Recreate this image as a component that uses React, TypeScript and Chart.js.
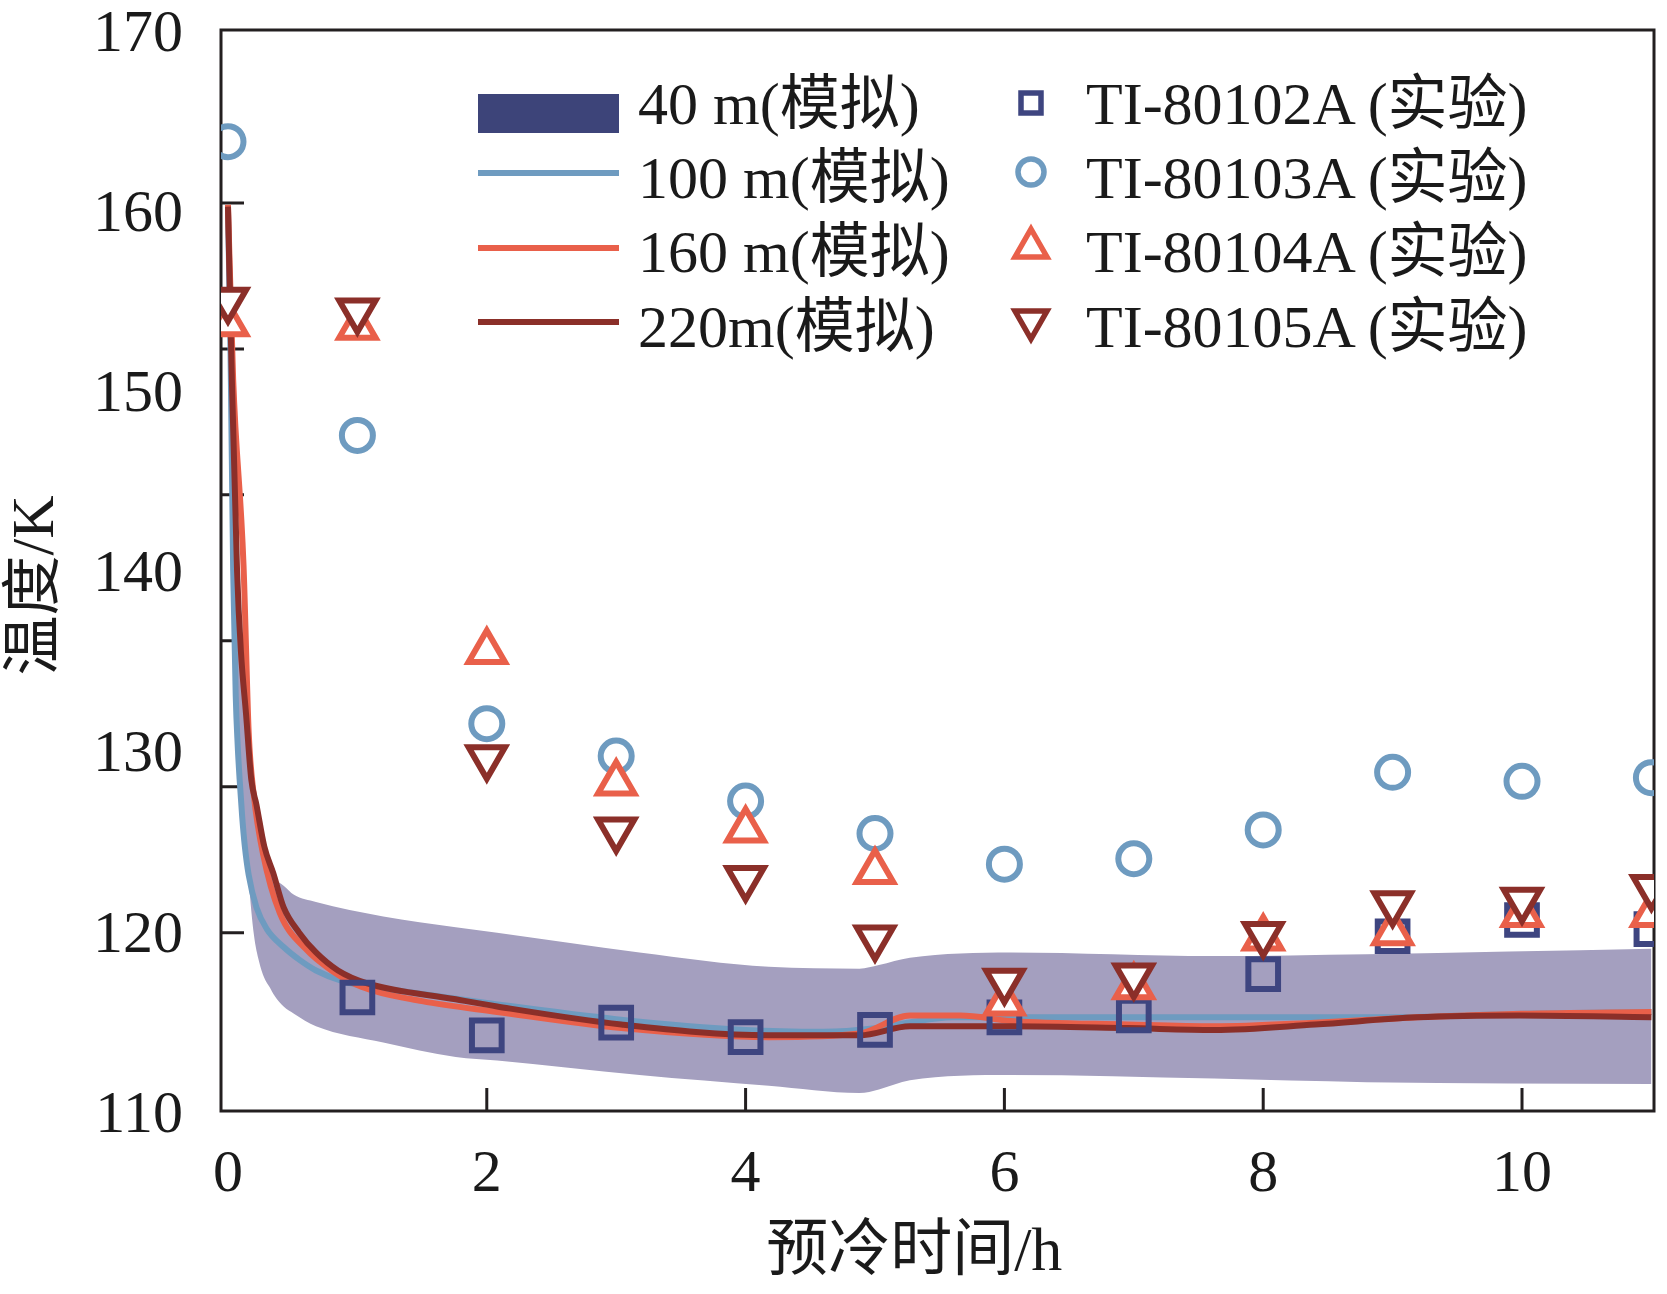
import React, { useEffect, useRef } from "react";
import { Chart, ChartConfiguration, Plugin, registerables } from "chart.js";

Chart.register(...registerables);

const serif = '"Liberation Serif", "Times New Roman", "Noto Sans CJK SC", serif';
const ink = "#1a1a1a";

const navy = "#3e4580";
const bandColor = "#a49fbf";
const blue = "#6e9bc0";
const orange = "#e9604a";
const darkRed = "#8b2f29";

// axes
const xMin = -0.054;
const xMax = 11.02;
const xTickValues = [0, 2, 4, 6, 8, 10];
const yTickValues = [110, 120, 130, 140, 150, 160, 170];
// the inward tick marks of the original do not sit on the labels
const xMarkValues = [2, 4, 6, 8, 10];
const yMarkValues = [119.9, 128.0, 136.1, 144.2, 152.3, 160.4];

// measurements
const expHours = [0, 1, 2, 3, 4, 5, 6, 7, 8, 9, 10, 11];
const ti80102A = [null, 116.3, 114.2, 114.9, 114.1, 114.5, 115.2, 115.3, 117.6, 119.7, 120.6, 120.1];
const ti80103A = [163.8, 147.5, 131.5, 129.7, 127.2, 125.4, 123.7, 124.0, 125.6, 128.8, 128.3, 128.5];
const ti80104A = [153.7, 153.5, 135.5, 128.2, 125.6, 123.3, 116.0, 116.9, 119.6, 119.9, 120.9, 120.9];
const ti80105A = [155.0, 154.4, 129.6, 125.6, 122.9, 119.6, 117.2, 117.5, 119.8, 121.5, 121.7, 122.4];

// simulation, 40 m band
const bandX = [0, 0.05, 0.1, 0.16, 0.2, 0.24, 0.28, 0.32, 0.36, 0.43, 0.51, 0.68, 1.2, 1.76, 2.08, 3.18, 4.18, 4.88, 5.03, 5.27, 6.05, 7.62, 8.8, 11];
const bandUpper = [160, 146, 136, 129.5, 127.0, 125.5, 124.2, 123.4, 122.9, 122.5, 122.0, 121.6, 120.8, 120.2, 119.9, 118.8, 118.0, 117.9, 118.1, 118.5, 118.8, 118.6, 118.7, 119.0];
const bandLower = [157, 137, 129, 122.8, 119.8, 118.3, 117.4, 116.9, 116.4, 115.8, 115.4, 114.7, 113.8, 113.0, 112.8, 112.0, 111.4, 111.0, 111.2, 111.7, 112.0, 111.8, 111.6, 111.5];

// simulation, 100 m
const sim100X = [0, 0.02, 0.04, 0.06, 0.075, 0.09, 0.11, 0.13, 0.16, 0.22, 0.3, 0.43, 0.55, 0.68, 0.89, 1.2, 1.5, 2, 3, 4, 4.6, 5, 5.25, 5.6, 6, 7, 8, 9, 10, 11];
const sim100 = [160, 152, 140, 133, 130.3, 128.4, 126.3, 124.7, 123.1, 121.3, 120.1, 119.1, 118.4, 117.8, 117.2, 116.8, 116.5, 116.0, 115.1, 114.5, 114.4, 114.6, 114.9, 115.2, 115.2, 115.2, 115.2, 115.2, 115.4, 115.5];

// simulation, 160 m
const sim160X = [0, 0.04, 0.12, 0.16, 0.2, 0.27, 0.4, 0.6, 0.8, 1.03, 1.5, 2.08, 3.04, 4.18, 4.88, 5.27, 5.66, 6.05, 6.95, 7.62, 8.4, 9.19, 10, 11];
const sim160 = [160.3, 150.6, 140.3, 131.0, 127.5, 124.3, 121.0, 119.0, 117.8, 116.9, 116.1, 115.5, 114.6, 114.1, 114.3, 115.3, 115.3, 115.0, 114.8, 114.7, 114.9, 115.2, 115.4, 115.5];

// simulation, 220 m
const sim220X = [0, 0.03, 0.07, 0.1, 0.14, 0.18, 0.22, 0.28, 0.35, 0.43, 0.55, 0.68, 0.85, 1.07, 1.76, 2.08, 3.04, 4.18, 4.88, 5.27, 6.05, 6.95, 7.62, 8.4, 9.19, 9.98, 11];
const sim220 = [160.2, 150.6, 140, 135.5, 132.0, 128.4, 127.0, 124.7, 123.2, 121.3, 119.9, 118.8, 117.8, 117.1, 116.2, 115.8, 114.8, 114.2, 114.2, 114.7, 114.7, 114.6, 114.5, 114.8, 115.2, 115.3, 115.2];

const pts = (xs: number[], ys: (number | null)[]) =>
  xs.map((x, i) => ({ x, y: ys[i] })).filter((p) => p.y !== null) as { x: number; y: number }[];

const marker = (color: string, style: string, radius: number, rotation: number, fill: string, order: number) => ({
  showLine: false,
  pointStyle: style as any,
  pointRotation: rotation,
  pointRadius: radius,
  pointHoverRadius: radius,
  pointBorderColor: color,
  pointBackgroundColor: fill,
  pointBorderWidth: 6,
  borderColor: color,
  backgroundColor: fill,
  order,
});

const curve = (color: string, order: number) => ({
  borderColor: color,
  borderWidth: 6,
  pointRadius: 0,
  cubicInterpolationMode: "monotone" as const,
  fill: false,
  order,
});

const tickFont = { family: serif, size: 60 };

const framePlugin: Plugin = {
  id: "frame",
  beforeDatasetsDraw(chart) {
    const { ctx, chartArea: a, scales } = chart;
    ctx.save();
    ctx.strokeStyle = "#231f20";
    ctx.lineWidth = 3;
    ctx.strokeRect(a.left, a.top, a.right - a.left, a.bottom - a.top);
    ctx.beginPath();
    xMarkValues.forEach((v) => {
      const px = scales.x.getPixelForValue(v);
      ctx.moveTo(px, a.bottom);
      ctx.lineTo(px, a.bottom - 23);
    });
    yMarkValues.forEach((v) => {
      const py = scales.y.getPixelForValue(v);
      ctx.moveTo(a.left, py);
      ctx.lineTo(a.left + 23, py);
    });
    ctx.stroke();
    ctx.restore();
  },
};

const config: ChartConfiguration<"line"> = {
  type: "line",
  data: {
    datasets: [
      { label: "TI-80105A (实验)", data: pts(expHours, ti80105A), ...marker(darkRed, "triangle", 21, 180, "#ffffff", 1) },
      { label: "TI-80104A (实验)", data: pts(expHours, ti80104A), ...marker(orange, "triangle", 21, 0, "#ffffff", 2) },
      { label: "TI-80103A (实验)", data: pts(expHours, ti80103A), ...marker(blue, "circle", 15.5, 0, "rgba(0,0,0,0)", 3) },
      { label: "TI-80102A (实验)", data: pts(expHours, ti80102A), ...marker(navy, "rect", 21, 0, "rgba(0,0,0,0)", 4) },
      { label: "220m(模拟)", data: pts(sim220X, sim220), ...curve(darkRed, 5) },
      { label: "160 m(模拟)", data: pts(sim160X, sim160), ...curve(orange, 6) },
      { label: "100 m(模拟)", data: pts(sim100X, sim100), ...curve(blue, 7) },
      {
        label: "40 m(模拟)",
        data: pts(bandX, bandUpper),
        borderWidth: 0,
        borderColor: "rgba(0,0,0,0)",
        backgroundColor: bandColor,
        pointRadius: 0,
        cubicInterpolationMode: "monotone",
        fill: "+1",
        order: 8,
      },
      {
        label: "40 m lower",
        data: pts(bandX, bandLower),
        borderWidth: 0,
        borderColor: "rgba(0,0,0,0)",
        pointRadius: 0,
        cubicInterpolationMode: "monotone",
        fill: false,
        order: 9,
      },
    ],
  },
  options: {
    animation: false,
    responsive: true,
    maintainAspectRatio: false,
    devicePixelRatio: 1,
    layout: { autoPadding: false, padding: { top: 30, right: 13, left: 0, bottom: 0 } },
    plugins: {
      legend: { display: false },
      tooltip: { enabled: false },
    },
    scales: {
      x: {
        type: "linear",
        min: xMin,
        max: xMax,
        afterBuildTicks: (s) => {
          s.ticks = xTickValues.map((v) => ({ value: v }));
        },
        afterFit: (s) => {
          s.height = 183;
          s.paddingLeft = 0;
          s.paddingRight = 0;
        },
        ticks: { font: tickFont, color: ink, padding: 28, maxRotation: 0, autoSkip: false },
        grid: { display: false, drawTicks: false },
        border: { display: false },
        title: {
          display: true,
          // trailing spaces nudge the centred title left, as in the original
          text: "预冷时间/h   ",
          font: { family: serif, size: 62 },
          color: ink,
          padding: { top: 0, bottom: 3 },
        },
      },
      y: {
        type: "linear",
        min: 110,
        max: 170,
        afterBuildTicks: (s) => {
          s.ticks = yTickValues.map((v) => ({ value: v }));
        },
        afterFit: (s) => {
          s.width = 221;
          s.paddingTop = 0;
          s.paddingBottom = 0;
        },
        ticks: { font: tickFont, color: ink, padding: 38, labelOffset: 5, autoSkip: false },
        grid: { display: false, drawTicks: false },
        border: { display: false },
        title: {
          display: true,
          text: "温度/K  ",
          font: { family: serif, size: 60 },
          color: ink,
          padding: { top: 1, bottom: 0 },
        },
      },
    },
  },
  plugins: [framePlugin],
};

const legendText: React.CSSProperties = {
  position: "absolute",
  fontFamily: serif,
  fontSize: 60,
  lineHeight: "72px",
  color: ink,
  whiteSpace: "nowrap",
};

function MarkerIcon({ kind, color }: { kind: string; color: string }) {
  let shape: React.ReactNode = null;
  if (kind === "rect") shape = <rect x={12} y={12} width={20} height={20} fill="none" stroke={color} strokeWidth={5.5} />;
  if (kind === "circle") shape = <circle cx={22} cy={22} r={13} fill="none" stroke={color} strokeWidth={5.5} />;
  if (kind === "up") shape = <polygon points="22,6 38,34 6,34" fill="none" stroke={color} strokeWidth={5.5} />;
  if (kind === "down") shape = <polygon points="6,9 38,9 22,37" fill="none" stroke={color} strokeWidth={5.5} />;
  return (
    <svg width={44} height={44} style={{ display: "block" }}>
      {shape}
    </svg>
  );
}

const simLegend = [
  { text: "40 m(模拟)", color: "#3d4479", y: 113, h: 39 },
  { text: "100 m(模拟)", color: blue, y: 173, h: 6 },
  { text: "160 m(模拟)", color: orange, y: 248, h: 6 },
  { text: "220m(模拟)", color: darkRed, y: 322, h: 6 },
];
const textRows = [109, 183, 257, 332];
const expLegend = [
  { text: "TI-80102A (实验)", kind: "rect", color: navy, y: 103 },
  { text: "TI-80103A (实验)", kind: "circle", color: blue, y: 172 },
  { text: "TI-80104A (实验)", kind: "up", color: orange, y: 245 },
  { text: "TI-80105A (实验)", kind: "down", color: darkRed, y: 324 },
];

export default function App() {
  const chartRef = useRef<HTMLCanvasElement | null>(null);

  useEffect(() => {
    document.body.style.margin = "0";
    if (!chartRef.current) {
      return;
    }
    const chartInstance = new Chart(chartRef.current, config);
    return () => {
      chartInstance.destroy();
    };
  }, [chartRef]);

  return (
    <div style={{ position: "relative", width: 1667, height: 1294, background: "#fff", overflow: "hidden" }}>
      <canvas ref={chartRef}></canvas>
      {/* legend */}
      {simLegend.map((s, i) => (
        <React.Fragment key={s.text}>
          <div
            style={{
              position: "absolute",
              left: 478,
              top: s.y - s.h / 2,
              width: 141,
              height: s.h,
              background: s.color,
            }}
          />
          <div style={{ ...legendText, left: 638, top: textRows[i] - 41 }}>{s.text}</div>
        </React.Fragment>
      ))}
      {expLegend.map((e, i) => (
        <React.Fragment key={e.text}>
          <div style={{ position: "absolute", left: 1031 - 22, top: e.y - 22 }}>
            <MarkerIcon kind={e.kind} color={e.color} />
          </div>
          <div style={{ ...legendText, left: 1086, top: textRows[i] - 41 }}>{e.text}</div>
        </React.Fragment>
      ))}
    </div>
  );
}
